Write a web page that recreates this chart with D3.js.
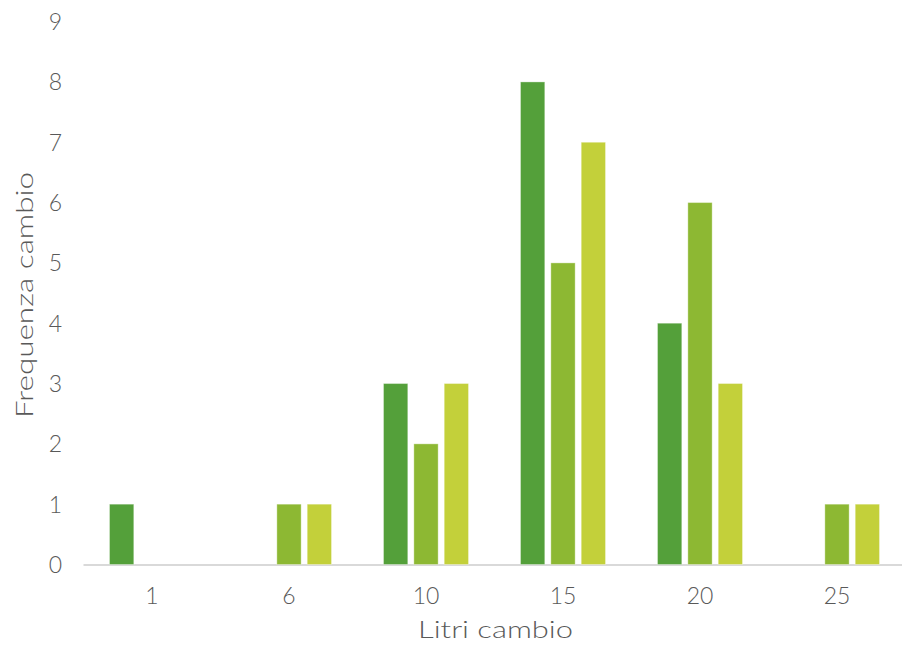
<!DOCTYPE html>
<html><head><meta charset="utf-8">
<script src="https://cdn.jsdelivr.net/npm/d3@7"></script>
<style>body{margin:0;background:#fff;} text{font-family:Lato, "Open Sans", sans-serif;font-weight:300;}</style>
</head><body><svg id="c" width="902" height="649"></svg>
<script>
const categories = ["1","6","10","15","20","25"];
const series1 = [1,0,3,8,4,0];
const series2 = [0,1,2,5,6,1];
const series3 = [0,1,3,7,3,1];
const yTicks = [0,1,2,3,4,5,6,7,8,9];
const seriesNames = ["s1","s2","s3"];
const colors = ["#54A03A","#8DB833","#C3D03A"];
const allSeries = [series1, series2, series3];

const svg = d3.select("#c");
const mLeft = 83.5, mRight = 905.5, mTop = 21.6, mBottom = 564.5;
const groupW = 85;
const x = d3.scaleBand().domain(categories).range([mLeft, mRight]).paddingInner(0).paddingOuter(0);
const x1 = d3.scaleBand().domain(seriesNames).range([0, groupW]).paddingInner(0.2).paddingOuter(0);
const y = d3.scaleLinear().domain([0,9]).range([mBottom, mTop]);

// axis line
svg.append("line").attr("x1", mLeft).attr("x2", 902).attr("y1", mBottom+0.5).attr("y2", mBottom+0.5)
  .attr("stroke","#d9d9d9").attr("stroke-width",2);

const groupOffset = (x.bandwidth() - groupW)/2;
const g = svg.append("g");
allSeries.forEach((vals, si) => {
  g.selectAll(".b"+si).data(vals.map((v,i)=>({c:categories[i], v}))).join("rect")
    .attr("class","b"+si)
    .attr("x", d => x(d.c) + groupOffset + x1(seriesNames[si]))
    .attr("width", x1.bandwidth())
    .attr("y", d => y(d.v))
    .attr("height", d => y(0) - y(d.v))
    .attr("fill", colors[si])
    .attr("stroke", "#ffffff").attr("stroke-opacity", 0.35).attr("stroke-width", 1)
    .style("display", d => d.v === 0 ? "none" : null);
});

// y tick labels
svg.selectAll(".yt").data(yTicks).join("text").attr("class","yt")
  .attr("x", 62).attr("y", d => y(d) + 8.5)
  .attr("text-anchor","end").attr("font-size",23).attr("fill","#595959").text(d => d);

// x tick labels
svg.selectAll(".xt").data(categories).join("text").attr("class","xt")
  .attr("x", d => x(d) + x.bandwidth()/2).attr("y", 604)
  .attr("text-anchor","middle").attr("font-size",23).attr("fill","#595959").text(d => d);

svg.append("text").attr("x", 495.5).attr("y", 638).attr("text-anchor","middle")
  .attr("font-size",23).attr("fill","#595959")
  .attr("textLength",155).attr("lengthAdjust","spacingAndGlyphs").text("Litri cambio");
svg.append("text").attr("transform","translate(33,295) rotate(-90)").attr("text-anchor","middle")
  .attr("font-size",23).attr("fill","#595959")
  .attr("textLength",246).attr("lengthAdjust","spacingAndGlyphs").text("Frequenza cambio");
</script></body></html>
